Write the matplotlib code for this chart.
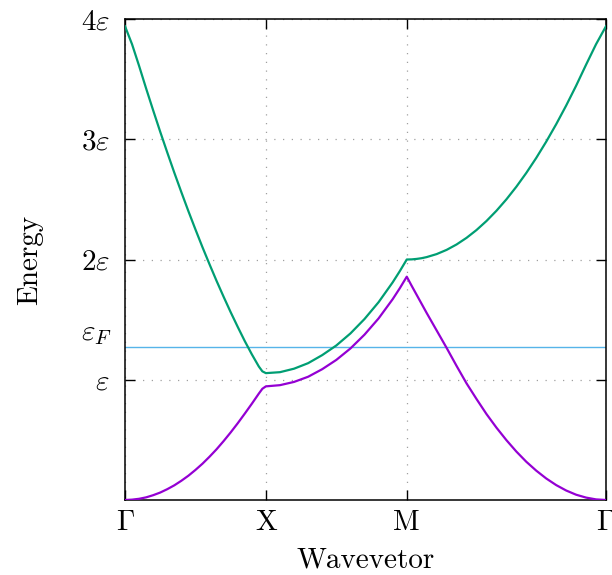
import numpy as np
import matplotlib
matplotlib.use('Agg')
import matplotlib.pyplot as plt

plt.rcParams['font.family'] = 'serif'
plt.rcParams['font.serif'] = ['cmr10', 'DejaVu Serif']
plt.rcParams['mathtext.fontset'] = 'cm'
plt.rcParams['axes.unicode_minus'] = False
plt.rcParams['axes.formatter.use_mathtext'] = True

# Path: Gamma-X (length 1), X-M (length 1), M-Gamma (length sqrt 2)
sym_labels = [r'$\Gamma$', 'X', 'M', r'$\Gamma$']
seg_len = [1.0, 1.0, np.sqrt(2)]

# fraction along each segment, energies in units of epsilon
frac_gx = [0.0, 0.05, 0.10, 0.15, 0.20, 0.25, 0.30, 0.35, 0.40, 0.45, 0.50,
           0.55, 0.60, 0.65, 0.70, 0.75, 0.80, 0.85, 0.90, 0.95, 0.975, 1.0]
low_gx = [0.000, 0.003, 0.010, 0.022, 0.040, 0.062, 0.090, 0.122, 0.160, 0.202, 0.250,
          0.302, 0.360, 0.422, 0.490, 0.562, 0.638, 0.718, 0.800, 0.885, 0.925, 0.945]
up_gx = [3.940, 3.790, 3.610, 3.422, 3.240, 3.062, 2.890, 2.722, 2.560, 2.402, 2.250,
         2.102, 1.960, 1.822, 1.690, 1.562, 1.440, 1.322, 1.212, 1.110, 1.070, 1.055]

frac_xm = [0.0, 0.1, 0.2, 0.3, 0.4, 0.5, 0.6, 0.7, 0.8, 0.9, 0.95, 1.0]
low_xm = [0.945, 0.955, 0.982, 1.025, 1.088, 1.165, 1.260, 1.375, 1.510, 1.670, 1.760, 1.857]
up_xm = [1.055, 1.063, 1.092, 1.138, 1.205, 1.285, 1.385, 1.505, 1.645, 1.810, 1.902, 2.000]

frac_mg = [0.0, 0.025, 0.05, 0.075, 0.10, 0.15, 0.20, 0.25, 0.30, 0.35, 0.40, 0.45, 0.50,
           0.55, 0.60, 0.65, 0.70, 0.75, 0.80, 0.85, 0.90, 0.95, 1.0]
low_mg = [1.857, 1.780, 1.705, 1.630, 1.555, 1.410, 1.265, 1.115, 0.970, 0.840, 0.715, 0.602, 0.498,
          0.403, 0.318, 0.244, 0.179, 0.124, 0.079, 0.044, 0.020, 0.005, 0.000]
up_mg = [2.000, 2.001, 2.005, 2.011, 2.020, 2.045, 2.080, 2.125, 2.180, 2.245, 2.320, 2.405, 2.500,
         2.605, 2.720, 2.845, 2.980, 3.125, 3.280, 3.445, 3.620, 3.790, 3.940]

E_fermi = 1.272
ytick_vals = [1, 2, 3, 4]
ytick_labels = [r'$\varepsilon$', r'$2\varepsilon$', r'$3\varepsilon$', r'$4\varepsilon$']

k_sym = np.concatenate([[0], np.cumsum(seg_len)])
k_path = np.concatenate([k_sym[0] + np.array(frac_gx) * seg_len[0],
                         k_sym[1] + np.array(frac_xm) * seg_len[1],
                         k_sym[2] + np.array(frac_mg) * seg_len[2]])
lower = np.concatenate([low_gx, low_xm, low_mg])
upper = np.concatenate([up_gx, up_xm, up_mg])

fig = plt.figure(figsize=(6.12, 5.75), dpi=100)
ax = fig.add_axes([125 / 612, 75 / 575, 481 / 612, 481 / 575])

ax.axhline(E_fermi, color='#56b4e9', linewidth=1.0, zorder=2)
ax.plot(k_path, upper, color='#009e73', linewidth=1.6, zorder=3)
ax.plot(k_path, lower, color='#9400d3', linewidth=1.6, zorder=3)

ax.set_xlim(k_sym[0], k_sym[-1])
ax.set_ylim(0, 4)
ax.set_xticks(k_sym)
ax.set_xticklabels(sym_labels)
ax.set_yticks(ytick_vals)
ax.set_yticklabels(ytick_labels)

ax.grid(True, color='#a0a0a0', linestyle=(0, (1, 6)), linewidth=0.9)
ax.tick_params(direction='in', length=7, width=1.0, top=True, right=True, labelsize=21)
ax.tick_params(axis='x', pad=7)
ax.tick_params(axis='y', pad=11)
for sp in ax.spines.values():
    sp.set_linewidth(1.1)

ax.text(-0.027, E_fermi + 0.11, r'$\varepsilon_F$', transform=ax.get_yaxis_transform(),
        ha='right', va='center', fontsize=21)

ax.set_xlabel('Wavevetor', fontsize=21, labelpad=8)
ax.set_ylabel('Energy', fontsize=21, labelpad=27)

plt.savefig('out.png', dpi=100)
